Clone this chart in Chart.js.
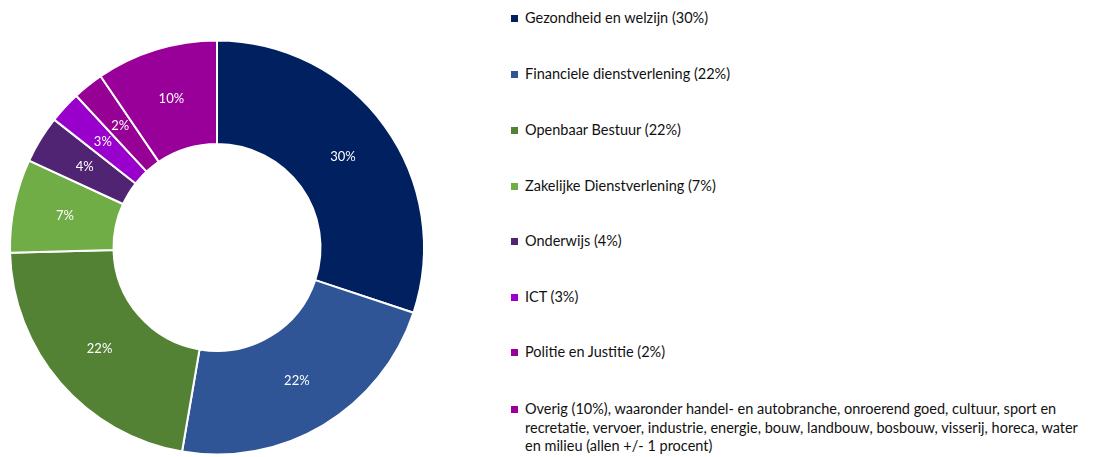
<!DOCTYPE html>
<html>
<head>
<meta charset="utf-8">
<script src="https://cdn.jsdelivr.net/npm/chart.js@4.4.1/dist/chart.umd.min.js"></script>
<style>
  html, body { margin: 0; padding: 0; background: #fff; }
  body { width: 1117px; height: 457px; position: relative; overflow: hidden; font-family: Lato, 'Open Sans', sans-serif; }
  #chart-wrap { position: absolute; left: 0; top: 0; width: 434px; height: 457px; }
  #legend { position: absolute; left: 511px; top: 0; width: 606px; }
  .legend-item { position: absolute; left: 0; display: flex; align-items: flex-start; font-size: 14.5px; color: #111; line-height: 18.5px; }
  .legend-box { width: 7px; height: 7px; margin-top: 6px; margin-right: 7px; flex: none; }
</style>
</head>
<body>
<div id="chart-wrap"><canvas id="donutChart"></canvas></div>
<div id="legend"></div>
<script>
// Sectors (labels may be split in lines for the legend)
const sectorLabels = [
  ['Gezondheid en welzijn (30%)'],
  ['Financiele dienstverlening (22%)'],
  ['Openbaar Bestuur (22%)'],
  ['Zakelijke Dienstverlening (7%)'],
  ['Onderwijs (4%)'],
  ['ICT (3%)'],
  ['Politie en Justitie (2%)'],
  ['Overig (10%), waaronder handel- en autobranche, onroerend goed, cultuur, sport en',
   'recretatie, vervoer, industrie, energie, bouw, landbouw, bosbouw, visserij, horeca, water',
   'en milieu (allen +/- 1 procent)']
];
const sectorValues = [30.1, 22.6, 21.9, 7.3, 3.7, 2.5, 2.4, 9.5];
const sectorPercents = ['30%', '22%', '22%', '7%', '4%', '3%', '2%', '10%'];
const sectorColors = ['#002060', '#2F5597', '#548235', '#70AD47', '#512473', '#9900CC', '#960094', '#990099'];

// Custom legend on the right
const legendEl = document.getElementById('legend');
const legendTops = [9, 65, 121, 177, 232, 288, 343, 400];
sectorLabels.forEach((lines, i) => {
  const item = document.createElement('div');
  item.className = 'legend-item';
  item.style.top = legendTops[i] + 'px';
  item.innerHTML = `<span class="legend-box" style="background:${sectorColors[i]}"></span><span>${lines.join('<br>')}</span>`;
  legendEl.appendChild(item);
});

// Percent labels in the middle of every slice
const sliceLabels = {
  id: 'sliceLabels',
  afterDatasetsDraw(chart) {
    const ctx = chart.ctx;
    const meta = chart.getDatasetMeta(0);
    ctx.save();
    ctx.font = '13px Lato, "Open Sans", sans-serif';
    ctx.fillStyle = '#ffffff';
    ctx.textAlign = 'center';
    ctx.textBaseline = 'middle';
    meta.data.forEach((arc, i) => {
      const p = arc.tooltipPosition();
      ctx.fillText(sectorPercents[i], p.x, p.y);
    });
    ctx.restore();
  }
};

new Chart(document.getElementById('donutChart'), {
  type: 'doughnut',
  data: {
    labels: sectorLabels.map(l => l.join(' ')),
    datasets: [{
      data: sectorValues,
      backgroundColor: sectorColors,
      borderColor: '#ffffff',
      borderWidth: 2
    }]
  },
  options: {
    responsive: true,
    maintainAspectRatio: false,
    animation: false,
    cutout: '50%',
    layout: { padding: { left: 9, right: 9, top: 38, bottom: 0 } },
    plugins: {
      legend: { display: false },
      tooltip: { enabled: false }
    }
  },
  plugins: [sliceLabels]
});
</script>
</body>
</html>
